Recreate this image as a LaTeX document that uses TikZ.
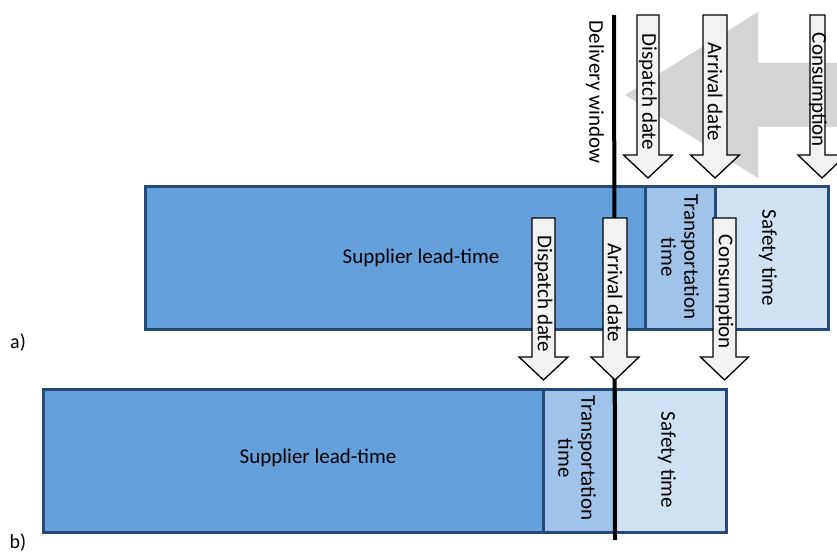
\documentclass[tikz,border=0pt]{standalone}
\usepackage{fontspec}
\setmainfont{Carlito}
\definecolor{barline}{HTML}{24497A}
\definecolor{leadfill}{HTML}{65A0DC}
\definecolor{transfill}{HTML}{9FC3E9}
\definecolor{safefill}{HTML}{D0E1F3}
\definecolor{arrowfill}{HTML}{F2F2F2}
\definecolor{bigarrow}{HTML}{D4D4D4}
% downward block arrow: centre x, top y, head start y, tip y, shaft half width, head half width
\newcommand{\blockdown}[6]{%
  \draw[blockarrow] (#1-#5,#2) -- (#1+#5,#2) -- (#1+#5,#3) -- (#1+#6,#3)
    -- (#1,#4) -- (#1-#6,#3) -- (#1-#5,#3) -- cycle;}
\begin{document}
\begin{tikzpicture}[x=1pt,y=-1pt,
  every node/.style={font=\fontsize{21}{23}\selectfont, inner sep=0pt},
  barpart/.style={draw=barline, line width=3pt, line join=miter},
  blockarrow/.style={draw=black, fill=arrowfill, line width=1.3pt, line join=miter},
  vlabel/.style={rotate=-90, align=center},
  caselabel/.style={font=\fontsize{20}{22}\selectfont}]
\useasboundingbox (0,0) rectangle (837,553);

% timeline bars
\fill[bigarrow] (625,95) -- (758,12) -- (758,63) -- (837,63) -- (837,127) -- (758,127) -- (758,178) -- cycle;

\draw[barpart, fill=leadfill]  (145,187) rectangle (645,329);
\draw[barpart, fill=transfill] (645,187) rectangle (715,329);
\draw[barpart, fill=safefill]  (715,187) rectangle (828,329);

\draw[barpart, fill=leadfill]  (43,389) rectangle (543,532);
\draw[barpart, fill=transfill] (543,389) rectangle (615,532);
\draw[barpart, fill=safefill]  (615,389) rectangle (726,532);

\node (leadA)  at (421,258) {Supplier lead-time};
\node[vlabel] (transA) at (680,257) {Transportation\\time};
\node[vlabel] (safeA)  at (768,258) {Safety time};

\node (leadB)  at (318,458) {Supplier lead-time};
\node[vlabel] (transB) at (577,458) {Transportation\\time};
\node[vlabel] (safeB)  at (667,460) {Safety time};

% delivery window
\coordinate (winTop) at (614,15);
\coordinate (winBot) at (615,540);
\draw[line width=4pt] (winTop) -- (winBot);
\node[vlabel] (window) at (595,92) {Delivery window};

% event arrows, case a)
\blockdown{648}{15}{155}{178}{11}{24.5}
\blockdown{715}{15}{155}{178}{12}{24.5}
\draw[blockarrow] (810,15) -- (825,15) -- (825,155) -- (846,155) -- (822,178) -- (798,155) -- (810,155) -- cycle;
\node[vlabel] (dispA) at (648,92) {Dispatch date};
\node[vlabel] (arrA)  at (715,92) {Arrival date};
\node[vlabel] (consA) at (818,90) {Consumption};

% event arrows, case b)
\blockdown{543.5}{218}{357}{380}{11.5}{24.5}
\blockdown{615}{218}{357}{380}{12}{24}
\blockdown{724.5}{218}{357}{380}{11.5}{24}
\node[vlabel] (dispB) at (543.5,294) {Dispatch date};
\node[vlabel] (arrB)  at (615,293) {Arrival date};
\node[vlabel] (consB) at (724.5,292) {Consumption};

\node[caselabel] (caseA) at (18,343) {a)};
\node[caselabel] (caseB) at (18,543) {b)};
\end{tikzpicture}
\end{document}
